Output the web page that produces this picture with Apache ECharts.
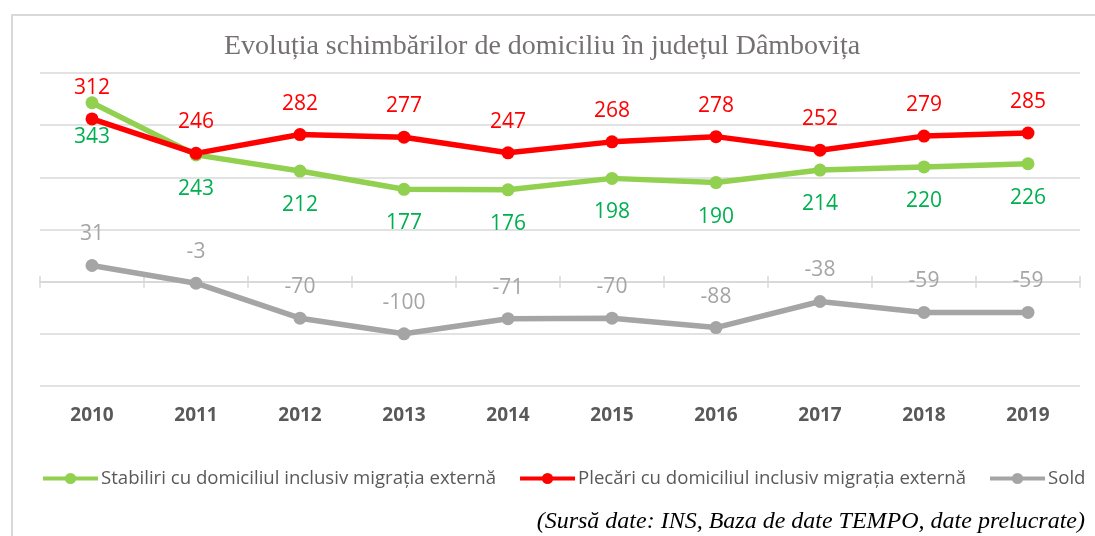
<!DOCTYPE html>
<html>
<head>
<meta charset="utf-8">
<script src="https://cdn.jsdelivr.net/npm/echarts@6/dist/echarts.min.js"></script>
<style>
html, body { margin: 0; padding: 0; background: #fff; }
#main { width: 1095px; height: 536px; }
</style>
</head>
<body>
<div id="main"></div>
<script>
// date
const years = ['2010', '2011', '2012', '2013', '2014', '2015', '2016', '2017', '2018', '2019'];
const stabiliri = [343, 243, 212, 177, 176, 198, 190, 214, 220, 226];
const plecari = [312, 246, 282, 277, 247, 268, 278, 252, 279, 285];
const sold = [31, -3, -70, -100, -71, -70, -88, -38, -59, -59];

const labelFont = 'Open Sans';

function lineSeries(name, data, color, labelColor, labelPos, dist) {
  return {
    name: name,
    type: 'line',
    data: data,
    symbol: 'circle',
    symbolSize: 13,
    lineStyle: { color: color, width: 5.5 },
    itemStyle: { color: color },
    label: {
      show: true,
      position: labelPos,
      distance: dist,
      color: labelColor,
      fontFamily: labelFont,
      fontSize: 21
    },
    z: 3
  };
}

const chart = echarts.init(document.getElementById('main'));
const option = {
  animation: false,
  title: {
    text: 'Evoluția schimbărilor de domiciliu în județul Dâmbovița',
    left: 219,
    top: 28,
    textStyle: {
      fontFamily: 'Liberation Serif',
      fontWeight: 'normal',
      fontSize: 28,
      color: '#767171'
    }
  },
  grid: { left: 40, right: 15, top: 73, bottom: 150 },
  legend: {
    bottom: 43,
    left: 36,
    itemWidth: 55,
    itemHeight: 14,
    itemGap: 22,
    lineStyle: { width: 4 },
    textStyle: { fontFamily: labelFont, fontSize: 18.6, color: '#595959', padding: [0, 0, 0, -2] },
    data: [
      'Stabiliri cu domiciliul inclusiv migrația externă',
      'Plecări cu domiciliul inclusiv migrația externă',
      'Sold'
    ]
  },
  xAxis: [
    {
      type: 'category',
      data: years,
      position: 'bottom',
      axisLine: { show: false, onZero: false },
      axisTick: { show: false },
      axisLabel: { margin: 20, fontFamily: labelFont, fontWeight: 'bold', fontSize: 19, color: '#595959' }
    },
    {
      // linia de zero, cu gradatii in jos
      type: 'category',
      data: years,
      position: 'bottom',
      axisLine: { show: true, onZero: true, onZeroAxisIndex: 0, lineStyle: { color: '#d9d9d9', width: 1.5 } },
      axisTick: { show: true, length: 6, lineStyle: { color: '#d9d9d9', width: 1.5 } },
      axisLabel: { show: false }
    },
    {
      // aceeasi linie, gradatii in sus
      type: 'category',
      data: years,
      position: 'bottom',
      axisLine: { show: true, onZero: true, onZeroAxisIndex: 0, lineStyle: { color: '#d9d9d9', width: 1.5 } },
      axisTick: { show: true, inside: true, length: 6, lineStyle: { color: '#d9d9d9', width: 1.5 } },
      axisLabel: { show: false }
    }
  ],
  yAxis: {
    type: 'value',
    min: -200,
    max: 400,
    interval: 100,
    axisLabel: { show: false },
    axisLine: { show: false },
    axisTick: { show: false },
    splitLine: { lineStyle: { color: '#d9d9d9', width: 1.5 } }
  },
  graphic: [
    {
      type: 'rect',
      shape: { x: 12, y: 15, width: 1200, height: 700 },
      style: { fill: 'none', stroke: '#d9d9d9', lineWidth: 2 },
      silent: true
    },
    {
      type: 'text',
      right: 10,
      top: 510,
      style: {
        text: '(Sursă date: INS, Baza de date TEMPO, date prelucrate)',
        fontFamily: 'Liberation Serif',
        fontStyle: 'italic',
        fontSize: 24,
        fill: '#000'
      }
    }
  ],
  series: [
    lineSeries('Stabiliri cu domiciliul inclusiv migrația externă', stabiliri, '#92d050', '#00b050', 'bottom', 17),
    lineSeries('Plecări cu domiciliul inclusiv migrația externă', plecari, '#ff0000', '#ff0000', 'top', 14),
    lineSeries('Sold', sold, '#a5a5a5', '#a5a5a5', 'top', 14)
  ]
};
chart.setOption(option);
window.onresize = function () {
  chart.resize();
};
</script>
</body>
</html>
